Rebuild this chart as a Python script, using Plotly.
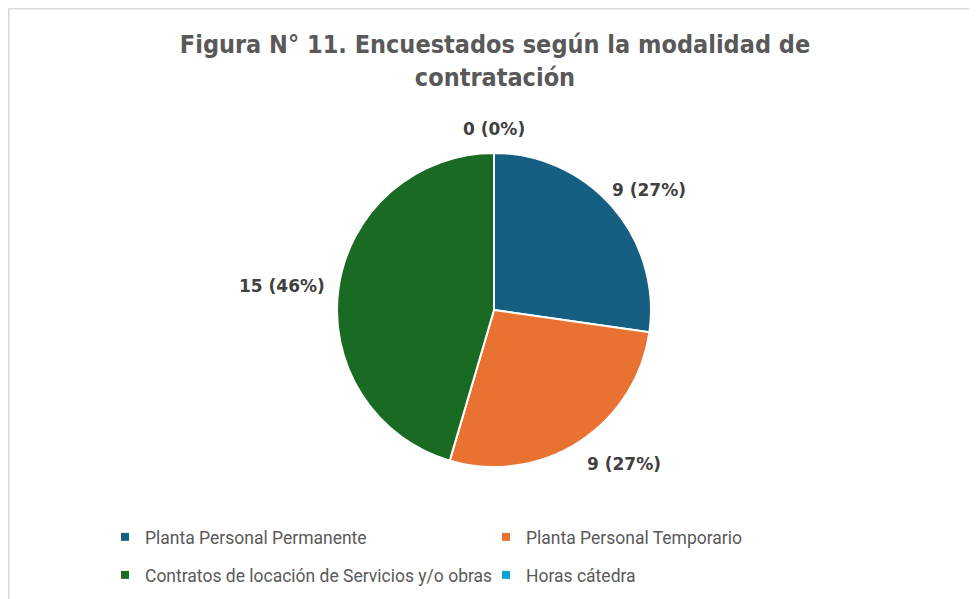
import math
import plotly.graph_objects as go

categories = ["Planta Personal Permanente", "Planta Personal Temporario",
              "Contratos de locación de Servicios y/o obras", "Horas cátedra"]
values = [9, 9, 15, 0]
percent_labels = ["27%", "27%", "46%", "0%"]
colors = ["#156082", "#E97132", "#196B24", "#0F9ED5"]

W, H = 977, 599
title_font = "Liberation Sans Narrow, DejaVu Sans Condensed, sans-serif"
label_font = "DejaVu Sans, sans-serif"
legend_font = "Roboto, sans-serif"

text_labels = [f"{v} ({p})" for v, p in zip(values, percent_labels)]

# pie geometry in figure pixels
cx, cy, r = 486, 302, 157
fig = go.Figure(go.Pie(
    labels=categories,
    values=values,
    textinfo="none",
    sort=False,
    direction="clockwise",
    rotation=0,
    marker=dict(colors=colors, line=dict(color="white", width=2)),
    domain=dict(x=[(cx - r) / W, (cx + r) / W], y=[1 - (cy + r) / H, 1 - (cy - r) / H]),
    showlegend=False,
    hoverinfo="label+value+percent",
))

# data labels placed outside each slice, at the slice's mid-angle
annotations = []
total = sum(values)
cum = 0
for v, t in zip(values, text_labels):
    mid = (cum + v / 2) / total * 2 * math.pi
    cum += v
    s, c = math.sin(mid), math.cos(mid)
    px = cx + (r + 12) * s
    py = cy - (r + 12) * c
    xa = "left" if s > 0.3 else ("right" if s < -0.3 else "center")
    ya = "bottom" if c > 0.3 else ("top" if c < -0.3 else "middle")
    if xa == "left" and ya == "bottom":
        px -= 12
        py += 3
    annotations.append(dict(
        x=px / W, y=1 - py / H, xref="paper", yref="paper",
        text=t, showarrow=False, xanchor=xa, yanchor=ya,
        font=dict(family=label_font, size=17, color="#404040", weight="bold"),
    ))

fig.update_layout(annotations=annotations)

# legend entries (one legend per entry for exact two-column layout)
legend_pos = [(117, 529), (498, 529), (117, 567), (498, 567)]
legend_names = ["legend", "legend2", "legend3", "legend4"]
for name, col, lg in zip(categories, colors, legend_names):
    fig.add_trace(go.Scatter(
        x=[None], y=[None], mode="markers", name=name,
        marker=dict(symbol="square", size=8, color=col),
        legend=lg, showlegend=True, hoverinfo="skip",
    ))

legend_layout = {}
for lg, (lx, ly) in zip(legend_names, legend_pos):
    legend_layout[lg] = dict(
        x=(lx - 20) / W, xanchor="left", y=1 - ly / H, yanchor="middle",
        font=dict(family=legend_font, size=17.5, color="#595959"),
        bgcolor="rgba(0,0,0,0)", itemwidth=30,
    )

fig.update_layout(
    width=W, height=H,
    margin=dict(l=0, r=0, t=0, b=0),
    paper_bgcolor="white",
    plot_bgcolor="white",
    xaxis=dict(visible=False),
    yaxis=dict(visible=False),
    title=dict(
        text="Figura N° 11. Encuestados según la modalidad de<br>contratación",
        x=487 / W, xanchor="center", xref="paper",
        y=1 - 45 / H, yanchor="middle", yref="container",
        font=dict(family=title_font, size=25, color="#595959", weight="bold"),
    ),
    shapes=[
        dict(type="line", xref="paper", yref="paper",
             x0=0.6 / W, x1=1.02, y0=1 - 0.6 / H, y1=1 - 0.6 / H,
             line=dict(color="#D9D9D9", width=2)),
        dict(type="line", xref="paper", yref="paper",
             x0=0.6 / W, x1=0.6 / W, y0=1 - 0.6 / H, y1=-0.02,
             line=dict(color="#D9D9D9", width=2)),
    ],
    **legend_layout,
)

fig.write_html("out.html")
